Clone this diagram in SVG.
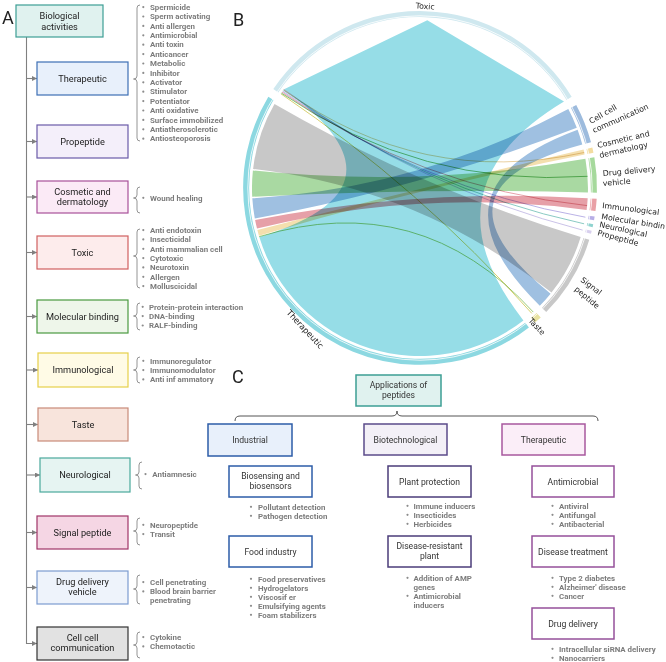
<svg xmlns="http://www.w3.org/2000/svg" width="666" height="662" viewBox="0 0 666 662">
<defs>
<style>
.t{font-family:Roboto,'Liberation Sans',sans-serif;font-size:9.2px;fill:#222;text-anchor:middle}
.tc{font-family:Roboto,'Liberation Sans',sans-serif;font-size:8.6px;fill:#333;text-anchor:middle}
.li{font-family:Roboto,'Liberation Sans',sans-serif;font-weight:700;font-size:7.9px;fill:#7c7c7c}
.dot{fill:#8c8c8c}
.br{fill:none;stroke:#7a7a7a;stroke-width:0.8}
.cn{fill:none;stroke:#808080;stroke-width:1.1}
.bl{font-family:Roboto,'Liberation Sans',sans-serif;font-size:18px;fill:#222}
.cl{font-family:'DejaVu Sans',sans-serif;font-size:7.8px;fill:#222}
.rb{mix-blend-mode:multiply}
.ring{fill:none;stroke-width:6}
.thin{fill:none;mix-blend-mode:multiply}
.a rect{stroke-width:1.2}
.c rect{stroke-width:1.5}
</style>
<marker id="ah" viewBox="0 0 6 6" refX="6" refY="3" markerWidth="5" markerHeight="5" markerUnits="userSpaceOnUse" orient="auto"><path d="M0,0 L6,3 L0,6 z" fill="#808080"/></marker>
</defs>
<rect width="666" height="662" fill="#fff"/>

<!-- Panel letters -->
<text class="bl" x="2" y="24">A</text>
<text class="bl" x="233" y="26">B</text>
<text class="bl" x="232" y="383">C</text>

<!-- ===== Panel A ===== -->
<g id="connectors-a">
<path class="cn" d="M26.5,37 V643.5 H37" marker-end="url(#ah)"/>
<path class="cn" d="M26.5,78.5 H37" marker-end="url(#ah)"/>
<path class="cn" d="M26.5,141.5 H37" marker-end="url(#ah)"/>
<path class="cn" d="M26.5,197 H37" marker-end="url(#ah)"/>
<path class="cn" d="M26.5,252.5 H37" marker-end="url(#ah)"/>
<path class="cn" d="M26.5,316.5 H37" marker-end="url(#ah)"/>
<path class="cn" d="M26.5,370 H38" marker-end="url(#ah)"/>
<path class="cn" d="M26.5,424.5 H38" marker-end="url(#ah)"/>
<path class="cn" d="M26.5,475 H40" marker-end="url(#ah)"/>
<path class="cn" d="M26.5,532.5 H37" marker-end="url(#ah)"/>
<path class="cn" d="M26.5,587.5 H37" marker-end="url(#ah)"/>
</g>

<g id="bio-root" class="a"><rect x="16" y="5" width="87" height="32" fill="#e0f2ef" stroke="#3d9e94"/>
<text class="t" x="59.5" y="19">Biological</text><text class="t" x="59.5" y="29.5">activities</text></g>

<g id="a-therapeutic" class="a"><rect x="37" y="62" width="91" height="33" fill="#e8f0fb" stroke="#3d6fb5"/>
<text class="t" x="82.5" y="81.7">Therapeutic</text></g>
<g id="a-propeptide" class="a"><rect x="37" y="125" width="91" height="33" fill="#f4effa" stroke="#6a5aa8"/>
<text class="t" x="82.5" y="144.7">Propeptide</text></g>
<g id="a-cosmetic" class="a"><rect x="37" y="181" width="91" height="32" fill="#fbeaf6" stroke="#a8509a"/>
<text class="t" x="82.5" y="194.5">Cosmetic and</text><text class="t" x="82.5" y="205">dermatology</text></g>
<g id="a-toxic" class="a"><rect x="37" y="236" width="91" height="33" fill="#fdecec" stroke="#d06060"/>
<text class="t" x="82.5" y="255.7">Toxic</text></g>
<g id="a-molecular" class="a"><rect x="37" y="300" width="91" height="33" fill="#eef6ea" stroke="#4a9a40"/>
<text class="t" x="82.5" y="319.7">Molecular binding</text></g>
<g id="a-immuno" class="a"><rect x="38" y="353" width="90" height="34" fill="#fffbe6" stroke="#e6d04a"/>
<text class="t" x="83" y="373.2">Immunological</text></g>
<g id="a-taste" class="a"><rect x="38" y="408" width="90" height="33" fill="#f8e4dc" stroke="#c88a78"/>
<text class="t" x="83" y="427.7">Taste</text></g>
<g id="a-neuro" class="a"><rect x="40" y="458" width="90" height="34" fill="#e6f4f2" stroke="#4aa89c"/>
<text class="t" x="85" y="478.2">Neurological</text></g>
<g id="a-signal" class="a"><rect x="37" y="516" width="91" height="33" fill="#f5d6e4" stroke="#a03468"/>
<text class="t" x="82.5" y="535.7">Signal peptide</text></g>
<g id="a-drug" class="a"><rect x="37" y="571" width="91" height="33" fill="#eef3fb" stroke="#7c9cd0"/>
<text class="t" x="82.5" y="584.5">Drug delivery</text><text class="t" x="82.5" y="595">vehicle</text></g>
<g id="a-cell" class="a"><rect x="37" y="627" width="91" height="33" fill="#e2e2e2" stroke="#333"/>
<text class="t" x="82.5" y="640.5">Cell cell</text><text class="t" x="82.5" y="651">communication</text></g>

<!-- braces and lists -->
<g id="list-therapeutic">
<path class="br" d="M140,5 Q137,5 137,8 V76 Q137,79 133.5,79 Q137,79 137,82 V138 Q137,141 140,141"/>
<g class="dot"><circle cx="143.3" cy="7.1" r="1.1"/><circle cx="143.3" cy="16.5" r="1.1"/><circle cx="143.3" cy="25.9" r="1.1"/><circle cx="143.3" cy="35.3" r="1.1"/><circle cx="143.3" cy="44.7" r="1.1"/><circle cx="143.3" cy="54.1" r="1.1"/><circle cx="143.3" cy="63.5" r="1.1"/><circle cx="143.3" cy="72.9" r="1.1"/><circle cx="143.3" cy="82.3" r="1.1"/><circle cx="143.3" cy="91.7" r="1.1"/><circle cx="143.3" cy="101.1" r="1.1"/><circle cx="143.3" cy="110.5" r="1.1"/><circle cx="143.3" cy="119.9" r="1.1"/><circle cx="143.3" cy="129.3" r="1.1"/><circle cx="143.3" cy="138.7" r="1.1"/></g>
<text class="li"><tspan x="150" y="9.8">Spermicide</tspan><tspan x="150" y="19.2">Sperm activating</tspan><tspan x="150" y="28.6">Anti allergen</tspan><tspan x="150" y="38">Antimicrobial</tspan><tspan x="150" y="47.4">Anti toxin</tspan><tspan x="150" y="56.8">Anticancer</tspan><tspan x="150" y="66.2">Metabolic</tspan><tspan x="150" y="75.6">Inhibitor</tspan><tspan x="150" y="85">Activator</tspan><tspan x="150" y="94.4">Stimulator</tspan><tspan x="150" y="103.8">Potentiator</tspan><tspan x="150" y="113.2">Anti oxidative</tspan><tspan x="150" y="122.6">Surface immobilized</tspan><tspan x="150" y="132">Antiatherosclerotic</tspan><tspan x="150" y="141.4">Antiosteoporosis</tspan></text>
</g>
<g id="list-cosmetic">
<path class="br" d="M140,187 Q137,187 137,190 V195 Q137,198 133.5,198 Q137,198 137,201 V210 Q137,213 140,213"/>
<circle class="dot" cx="143.3" cy="197.8" r="1.1"/>
<text class="li" x="150" y="200.5">Wound healing</text>
</g>
<g id="list-toxic">
<path class="br" d="M140,229 Q137,229 137,232 V253 Q137,256 133.5,256 Q137,256 137,259 V285 Q137,288 140,288"/>
<g class="dot"><circle cx="143.3" cy="230.1" r="1.1"/><circle cx="143.3" cy="239.4" r="1.1"/><circle cx="143.3" cy="248.8" r="1.1"/><circle cx="143.3" cy="258.1" r="1.1"/><circle cx="143.3" cy="267.4" r="1.1"/><circle cx="143.3" cy="276.8" r="1.1"/><circle cx="143.3" cy="286.1" r="1.1"/></g>
<text class="li"><tspan x="150" y="232.8">Anti endotoxin</tspan><tspan x="150" y="242.1">Insecticidal</tspan><tspan x="150" y="251.5">Anti mammalian cell</tspan><tspan x="150" y="260.8">Cytotoxic</tspan><tspan x="150" y="270.1">Neurotoxin</tspan><tspan x="150" y="279.5">Allergen</tspan><tspan x="150" y="288.8">Molluscicidal</tspan></text>
</g>
<g id="list-molecular">
<path class="br" d="M140,303 Q137,303 137,306 V313 Q137,316 133.5,316 Q137,316 137,319 V327 Q137,330 140,330"/>
<g class="dot"><circle cx="142.7" cy="306.8" r="1.1"/><circle cx="142.7" cy="316.1" r="1.1"/><circle cx="142.7" cy="325.5" r="1.1"/></g>
<text class="li"><tspan x="149" y="309.5">Protein-protein interaction</tspan><tspan x="149" y="318.8">DNA-binding</tspan><tspan x="149" y="328.2">RALF-binding</tspan></text>
</g>
<g id="list-immuno">
<path class="br" d="M140,357 Q137,357 137,360 V367 Q137,370 133.5,370 Q137,370 137,373 V380 Q137,383 140,383"/>
<g class="dot"><circle cx="143.3" cy="360.8" r="1.1"/><circle cx="143.3" cy="370.1" r="1.1"/><circle cx="143.3" cy="379.4" r="1.1"/></g>
<text class="li"><tspan x="150" y="363.5">Immunoregulator</tspan><tspan x="150" y="372.8">Immunomodulator</tspan><tspan x="150" y="382.1">Anti inf ammatory</tspan></text>
</g>
<g id="list-neuro">
<path class="br" d="M142,462 Q139,462 139,465 V472 Q139,475 135.5,475 Q139,475 139,478 V486 Q139,489 142,489"/>
<circle class="dot" cx="145.5" cy="474.1" r="1.1"/>
<text class="li" x="152.3" y="476.8">Antiamnesic</text>
</g>
<g id="list-signal">
<path class="br" d="M140,518 Q137,518 137,521 V528 Q137,531 133.5,531 Q137,531 137,534 V542 Q137,545 140,545"/>
<g class="dot"><circle cx="143.3" cy="524.8" r="1.1"/><circle cx="143.3" cy="534.1" r="1.1"/></g>
<text class="li"><tspan x="150" y="527.5">Neuropeptide</tspan><tspan x="150" y="536.8">Transit</tspan></text>
</g>
<g id="list-drug">
<path class="br" d="M140,575 Q137,575 137,578 V586 Q137,589 133.5,589 Q137,589 137,592 V601 Q137,604 140,604"/>
<g class="dot"><circle cx="143.3" cy="582.1" r="1.1"/><circle cx="143.3" cy="591.4" r="1.1"/></g>
<text class="li"><tspan x="150" y="584.8">Cell penetrating</tspan><tspan x="150" y="594.1">Blood brain barrier</tspan><tspan x="150" y="603.4">penetrating</tspan></text>
</g>
<g id="list-cell">
<path class="br" d="M140,632 Q137,632 137,635 V642 Q137,645 133.5,645 Q137,645 137,648 V655 Q137,658 140,658"/>
<g class="dot"><circle cx="143.3" cy="637.1" r="1.1"/><circle cx="143.3" cy="646.4" r="1.1"/></g>
<text class="li"><tspan x="150" y="639.8">Cytokine</tspan><tspan x="150" y="649.1">Chemotactic</tspan></text>
</g>

<!-- ===== Panel B : chord diagram ===== -->
<g id="chord-ribbons">
<path id="rib-toxic-therapeutic" fill="#96dde7" d="M284.1,89.3 L427.3,20.2 L564.0,101.5 Q420,188 523.4,320.4 A168,168 0 0 1 259.3,237.1 Q420,188 284.1,89.3 Z"/>
<path class="rb" fill="#c8c8c8" d="M253.1,169.0 A168,168 0 0 1 274.5,104.0 Q420,188 580.7,237.1 A168,168 0 0 1 551.5,292.6 Q420,188 253.1,169.0 Z"/>
<path class="rb" fill="#a9d9a2" d="M252.2,196.8 A168,168 0 0 1 252.9,170.4 Q420,188 585.4,158.8 A168,168 0 0 1 587.9,192.4 Q420,188 252.2,196.8 Z"/>
<path class="rb" fill="#9fc0e1" d="M254.8,218.6 A168,168 0 0 1 252.3,198.3 Q420,188 568.3,109.1 A168,168 0 0 1 576.8,127.8 Q420,188 254.8,218.6 Z"/>
<path class="rb" fill="#e6a0a8" d="M257.0,228.6 A168,168 0 0 1 255.1,220.1 Q420,188 587.7,198.3 A168,168 0 0 1 586.6,209.9 Q420,188 257.0,228.6 Z"/>
<path class="rb" fill="#f4dfae" d="M258.9,235.7 A168,168 0 0 1 257.4,230.1 Q420,188 583.6,149.6 A168,168 0 0 1 584.6,154.5 Q420,188 258.9,235.7 Z"/>
<path class="rb" fill="#9fc0e1" d="M577.6,129.7 A168,168 0 0 1 582.3,144.5 Q420,188 550.6,293.7 A168,168 0 0 1 539.8,305.8 Q420,188 577.6,129.7 Z"/>
<path class="thin" stroke="#78c078" stroke-width="1" d="M281.4,93.1 Q420,188 587.6,176.3"/>
<path class="thin" stroke="#e08a94" stroke-width="0.8" d="M282.0,92.1 Q420,188 587.1,205.6"/>
<path class="thin" stroke="#a89ee0" stroke-width="0.8" d="M282.7,91.2 Q420,188 585.4,217.2"/>
<path class="thin" stroke="#6cbcb4" stroke-width="0.8" d="M283.4,90.2 Q420,188 584.1,223.8"/>
<path class="thin" stroke="#bdb3e2" stroke-width="0.8" d="M283.9,89.5 Q420,188 582.6,230.1"/>
<path class="thin" stroke="#d8d070" stroke-width="1" d="M280.9,93.8 Q420,188 531.8,313.4"/>
<path class="thin" stroke="#e3c488" stroke-width="0.8" d="M283.7,89.7 Q420,188 584.2,152.5"/>
<path class="thin" stroke="#9ccc78" stroke-width="1" d="M259.2,236.6 Q420,188 533.3,312.1"/>
</g>

<g id="chord-ring">
<path class="ring" stroke="#cfe8ef" d="M275.8,90.7 A174,174 0 0 1 569.1,98.4"/>
<path class="ring" stroke="#9dbbdd" d="M573.6,106.3 A174,174 0 0 1 588.1,143.0"/>
<path class="ring" stroke="#f3dca0" d="M589.4,148.3 A174,174 0 0 1 590.5,153.3"/>
<path class="ring" stroke="#a6d99c" d="M591.4,157.8 A174,174 0 0 1 593.9,192.6"/>
<path class="ring" stroke="#e9a0a6" d="M593.7,198.6 A174,174 0 0 1 592.5,210.7"/>
<path class="ring" stroke="#b7aee6" d="M591.7,216.1 A174,174 0 0 1 591.1,219.7"/>
<path class="ring" stroke="#8fd3cf" d="M590.3,223.6 A174,174 0 0 1 589.7,226.5"/>
<path class="ring" stroke="#d8d0ee" d="M588.8,230.1 A174,174 0 0 1 588.1,233.0"/>
<path class="ring" stroke="#c8c8c8" d="M586.4,238.9 A174,174 0 0 1 544.1,310.0"/>
<path class="ring" stroke="#e8e2a0" d="M538.7,315.3 A174,174 0 0 1 533.0,320.3"/>
<path class="ring" stroke="#8cd8e1" d="M527.1,325.1 A174,174 0 0 1 270.9,98.4"/>
<circle cx="420" cy="188" r="172.2" fill="none" stroke="#fff" stroke-width="0.8"/>
</g>

<g id="chord-labels">
<text class="cl" text-anchor="middle" transform="translate(425,9) rotate(4)">Toxic</text>
<text class="cl" transform="translate(591,124) rotate(-30)">Cell cell</text>
<text class="cl" transform="translate(594,133) rotate(-24)">communication</text>
<text class="cl" transform="translate(598,148) rotate(-13)">Cosmetic and</text>
<text class="cl" transform="translate(600,158) rotate(-13)">dermatology</text>
<text class="cl" transform="translate(603,176) rotate(-5)">Drug delivery</text>
<text class="cl" transform="translate(603,186) rotate(-5)">vehicle</text>
<text class="cl" transform="translate(602,208) rotate(7)">Immunological</text>
<text class="cl" transform="translate(601,219) rotate(9)">Molecular bindin</text>
<text class="cl" transform="translate(599,227) rotate(12)">Neurological</text>
<text class="cl" transform="translate(597,235) rotate(15)">Propeptide</text>
<text class="cl" transform="translate(580,281) rotate(37)">Signal</text>
<text class="cl" transform="translate(574,290) rotate(40)">peptide</text>
<text class="cl" transform="translate(528,321) rotate(47)">Taste</text>
<text class="cl" style="font-size:8.3px" transform="translate(286,313) rotate(47)">Therapeutic</text>
</g>

<!-- ===== Panel C ===== -->
<g id="connectors-c">
<path fill="none" stroke="#555" stroke-width="1" d="M235,421 Q235,416 240,416 H392 Q397,416 397,411 Q397,416 402,416 H593 Q598,416 598,421"/>
</g>
<g id="c-applications" class="c"><rect x="356" y="375" width="85" height="31" fill="#e0f2ef" stroke="#3d9e94"/>
<text class="tc" x="398.5" y="387.5">Applications of</text><text class="tc" x="398.5" y="397.5">peptides</text></g>
<g id="c-industrial" class="c"><rect x="208" y="424" width="84" height="32" fill="#e8f0fb" stroke="#2d5ca8"/>
<text class="tc" x="250" y="443">Industrial</text></g>
<g id="c-biotech" class="c"><rect x="364" y="424" width="83" height="31" fill="#f3f0f7" stroke="#5b4b8a"/>
<text class="tc" x="405.5" y="442.5">Biotechnological</text></g>
<g id="c-therapeutic" class="c"><rect x="502" y="424" width="83" height="31" fill="#fbeef8" stroke="#a8589e"/>
<text class="tc" x="543.5" y="442.5">Therapeutic</text></g>

<g id="c-biosensing" class="c"><rect x="229" y="466" width="83" height="31" fill="#fff" stroke="#2d5ca8"/>
<text class="tc" x="270.5" y="478.5">Biosensing and</text><text class="tc" x="270.5" y="489">biosensors</text></g>
<g id="c-plant" class="c"><rect x="388" y="466" width="83" height="31" fill="#fff" stroke="#4b3d7a"/>
<text class="tc" x="429.5" y="484.5">Plant protection</text></g>
<g id="c-antimicrobial" class="c"><rect x="532" y="466" width="82" height="31" fill="#fff" stroke="#95509a"/>
<text class="tc" x="573" y="484.5">Antimicrobial</text></g>
<g id="c-food" class="c"><rect x="229" y="536" width="83" height="31" fill="#fff" stroke="#2d5ca8"/>
<text class="tc" x="270.5" y="554.5">Food industry</text></g>
<g id="c-disease-plant" class="c"><rect x="388" y="536" width="83" height="31" fill="#fff" stroke="#4b3d7a"/>
<text class="tc" x="429.5" y="548.5">Disease-resistant</text><text class="tc" x="429.5" y="559">plant</text></g>
<g id="c-disease-treat" class="c"><rect x="532" y="536" width="82" height="31" fill="#fff" stroke="#95509a"/>
<text class="tc" x="573" y="554.5">Disease treatment</text></g>
<g id="c-drug" class="c"><rect x="532" y="608" width="82" height="31" fill="#fff" stroke="#95509a"/>
<text class="tc" x="573" y="626.5">Drug delivery</text></g>

<g id="c-lists">
<g class="dot">
<circle cx="251" cy="506.8" r="1.1"/><circle cx="251" cy="515.8" r="1.1"/>
<circle cx="251" cy="578.8" r="1.1"/><circle cx="251" cy="587.8" r="1.1"/><circle cx="251" cy="596.8" r="1.1"/><circle cx="251" cy="605.8" r="1.1"/><circle cx="251" cy="614.8" r="1.1"/>
<circle cx="407.5" cy="505.8" r="1.1"/><circle cx="407.5" cy="514.8" r="1.1"/><circle cx="407.5" cy="523.8" r="1.1"/>
<circle cx="407.5" cy="577.8" r="1.1"/><circle cx="407.5" cy="595.8" r="1.1"/>
<circle cx="552.5" cy="505.8" r="1.1"/><circle cx="552.5" cy="514.8" r="1.1"/><circle cx="552.5" cy="523.8" r="1.1"/>
<circle cx="552.5" cy="577.8" r="1.1"/><circle cx="552.5" cy="586.8" r="1.1"/><circle cx="552.5" cy="595.8" r="1.1"/>
<circle cx="552.5" cy="648.8" r="1.1"/><circle cx="552.5" cy="657.8" r="1.1"/>
</g>
<text class="li"><tspan x="258" y="509.5">Pollutant detection</tspan><tspan x="258" y="518.5">Pathogen detection</tspan></text>
<text class="li"><tspan x="258" y="581.5">Food preservatives</tspan><tspan x="258" y="590.5">Hydrogelators</tspan><tspan x="258" y="599.5">Viscosif er</tspan><tspan x="258" y="608.5">Emulsifying agents</tspan><tspan x="258" y="617.5">Foam stabilizers</tspan></text>
<text class="li"><tspan x="413.5" y="508.5">Immune inducers</tspan><tspan x="413.5" y="517.5">Insecticides</tspan><tspan x="413.5" y="526.5">Herbicides</tspan></text>
<text class="li"><tspan x="413.5" y="580.5">Addition of AMP</tspan><tspan x="413.5" y="589.5">genes</tspan><tspan x="413.5" y="598.5">Antimicrobial</tspan><tspan x="413.5" y="607.5">inducers</tspan></text>
<text class="li"><tspan x="559" y="508.5">Antiviral</tspan><tspan x="559" y="517.5">Antifungal</tspan><tspan x="559" y="526.5">Antibacterial</tspan></text>
<text class="li"><tspan x="559" y="580.5">Type 2 diabetes</tspan><tspan x="559" y="589.5">Alzheimer' disease</tspan><tspan x="559" y="598.5">Cancer</tspan></text>
<text class="li"><tspan x="559" y="651.5">Intracellular siRNA delivery</tspan><tspan x="559" y="660.5">Nanocarriers</tspan></text>
</g>
</svg>
